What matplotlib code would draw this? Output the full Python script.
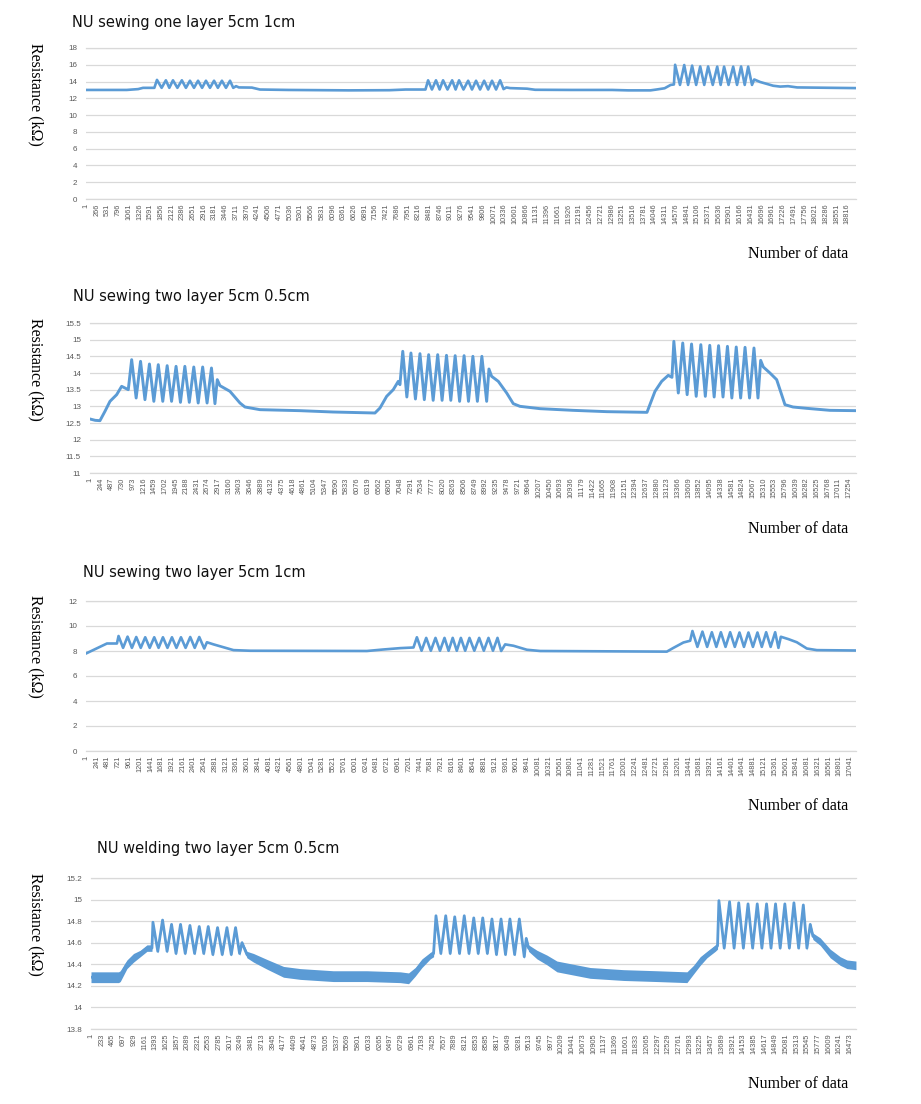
import matplotlib
matplotlib.use('Agg')
import matplotlib.pyplot as plt
import numpy as np
from matplotlib.ticker import FormatStrFormatter

# ---------------- data ----------------
titles = ["NU sewing one layer 5cm 1cm",
          "NU sewing two layer 5cm 0.5cm",
          "NU sewing two layer 5cm 1cm",
          "NU welding two layer 5cm 0.5cm"]

n_points = [19030, 17412, 17175, 16602]
tick_step = [265, 243, 240, 232]
tick_last = [18816, 17254, 17041, 16473]

# chart 1 : sewing one layer 5cm 1cm
x1 = [1, 1010, 1290, 1410, 1690,
      1755, 1870, 1975, 2060, 2150, 2260, 2370, 2470, 2570, 2670, 2770, 2870, 2965, 3065, 3165, 3260, 3360, 3460, 3560,
      3640, 3710, 3780, 4100, 4300, 5000, 6500, 7500, 7900, 8390,
      8455, 8550, 8650, 8740, 8825, 8935, 9050, 9135, 9220, 9330, 9445, 9540, 9640, 9740, 9840, 9940, 10035, 10135, 10235,
      10320, 10390, 10480, 10900, 11100, 12000, 13000, 13400, 13950, 14100, 14300, 14450, 14530,
      14560, 14680, 14785, 14880, 14980, 15080, 15180, 15280, 15375, 15490, 15600, 15685, 15770, 15880, 15995, 16090, 16190, 16280, 16365,
      16460, 16515, 16660, 16985, 17155, 17350, 17575, 19030]
y1 = [13.0, 13.0, 13.1, 13.25, 13.25,
      14.2, 13.25, 14.15, 13.25, 14.15, 13.25, 14.15, 13.25, 14.1, 13.25, 14.1, 13.25, 14.1, 13.25, 14.1, 13.25, 14.1, 13.25, 14.1,
      13.25, 13.45, 13.3, 13.28, 13.05, 13.0, 12.95, 12.97, 13.05, 13.05,
      14.15, 13.05, 14.15, 13.05, 14.15, 13.05, 14.15, 13.05, 14.15, 13.05, 14.1, 13.05, 14.1, 13.05, 14.1, 13.05, 14.1, 13.05, 14.15,
      13.1, 13.3, 13.22, 13.15, 13.02, 13.0, 13.0, 12.95, 12.95, 13.05, 13.2, 13.6, 13.65,
      16.0, 13.6, 15.97, 13.6, 15.9, 13.6, 15.8, 13.6, 15.8, 13.6, 15.78, 13.6, 15.78, 13.6, 15.78, 13.6, 15.8, 13.6, 15.78,
      13.6, 14.25, 13.95, 13.5, 13.4, 13.45, 13.3, 13.22]

# chart 2 : sewing two layer 5cm 0.5cm
x2 = [1, 120, 227, 341, 455, 607, 720, 796, 871,
      948, 1050, 1150, 1250, 1352, 1452, 1553, 1655, 1755, 1855, 1957, 2057, 2157, 2258, 2360, 2460, 2562, 2662, 2762,
      2841, 2894, 2955, 3182, 3410, 3523, 3864, 4773, 5523, 6478, 6592, 6744, 6894, 7008, 7046,
      7110, 7203, 7296, 7398, 7501, 7600, 7699, 7801, 7904, 8004, 8104, 8202, 8301, 8402, 8504, 8604, 8704, 8806, 8908,
      9017, 9069, 9130, 9281, 9472, 9622, 9774, 10229, 10979, 11751, 12661, 12843, 12995, 13145, 13229,
      13272, 13373, 13474, 13574, 13674, 13780, 13885, 13987, 14088, 14188, 14288, 14389, 14490, 14590, 14690, 14790, 14890, 14992, 15093,
      15184, 15245, 15305, 15456, 15609, 15797, 15979, 16291, 16820, 17411]
y2 = [12.62, 12.58, 12.57, 12.85, 13.15, 13.35, 13.6, 13.55, 13.5,
      14.4, 13.25, 14.35, 13.2, 14.27, 13.15, 14.25, 13.15, 14.22, 13.15, 14.2, 13.12, 14.2, 13.12, 14.18, 13.1, 14.18, 13.1, 14.15,
      13.08, 13.8, 13.62, 13.45, 13.1, 12.98, 12.9, 12.87, 12.83, 12.8, 12.95, 13.3, 13.5, 13.75, 13.65,
      14.65, 13.28, 14.6, 13.22, 14.58, 13.2, 14.55, 13.18, 14.55, 13.18, 14.53, 13.18, 14.52, 13.15, 14.52, 13.15, 14.5, 13.15, 14.5,
      13.15, 14.12, 13.9, 13.75, 13.4, 13.08, 13.0, 12.93, 12.88, 12.84, 12.82, 13.45, 13.75, 13.93, 13.87,
      14.95, 13.4, 14.9, 13.35, 14.87, 13.3, 14.85, 13.3, 14.83, 13.28, 14.82, 13.28, 14.8, 13.25, 14.78, 13.25, 14.77, 13.25, 14.75,
      13.25, 14.38, 14.18, 14.0, 13.8, 13.05, 12.98, 12.94, 12.88, 12.87]

# chart 3 : sewing two layer 5cm 1cm
x3 = [1, 468, 691,
      727, 828, 928, 1025, 1122, 1222, 1322, 1422, 1523, 1620, 1717, 1818, 1918, 2018, 2119, 2222, 2326, 2426, 2527,
      2638, 2698, 2845, 3068, 3291, 3664, 6266, 6630, 7009, 7305,
      7381, 7485, 7589, 7692, 7796, 7896, 7997, 8088, 8180, 8271, 8362, 8458, 8554, 8662, 8771, 8874, 8978, 9078, 9179,
      9261, 9350, 9535, 9834, 10131, 12956, 13103, 13326, 13476,
      13527, 13638, 13750, 13855, 13960, 14060, 14161, 14265, 14368, 14472, 14576, 14676, 14776, 14876, 14977, 15074, 15171, 15271, 15372,
      15445, 15499, 15668, 15855, 16078, 16301, 17171]
y3 = [7.8, 8.6, 8.6,
      9.2, 8.25, 9.15, 8.25, 9.12, 8.25, 9.1, 8.25, 9.1, 8.25, 9.1, 8.25, 9.1, 8.25, 9.1, 8.25, 9.12, 8.25, 9.12,
      8.2, 8.7, 8.53, 8.3, 8.07, 8.02, 8.0, 8.12, 8.23, 8.28,
      9.1, 8.02, 9.05, 8.02, 9.05, 8.02, 9.05, 8.02, 9.05, 8.02, 9.05, 8.02, 9.05, 8.02, 9.05, 8.02, 9.05, 8.02, 9.05,
      8.0, 8.53, 8.42, 8.1, 8.0, 7.95, 8.25, 8.68, 8.82,
      9.6, 8.33, 9.55, 8.33, 9.5, 8.33, 9.5, 8.33, 9.5, 8.33, 9.48, 8.33, 9.48, 8.33, 9.48, 8.33, 9.5, 8.33, 9.5,
      8.25, 9.14, 8.95, 8.7, 8.2, 8.07, 8.04]

# chart 4 : welding two layer 5cm 0.5cm  (y4 = centre of the noisy trace, hw4 = half width of its noise band)
x4 = [1, 599, 636, 781, 924, 1070, 1215, 1324,
      1345, 1450, 1554, 1652, 1749, 1846, 1944, 2046, 2148, 2249, 2350, 2448, 2545, 2646, 2747, 2849, 2951, 3045, 3138,
      3225, 3277, 3385, 3528, 3819, 4179, 4542, 5258, 5989, 6712, 6892, 7037, 7183, 7363, 7435,
      7487, 7593, 7699, 7796, 7894, 7998, 8101, 8204, 8307, 8404, 8502, 8602, 8702, 8800, 8899, 8996, 9092, 9194, 9296,
      9403, 9446, 9496, 9678, 9895, 10112, 10472, 10834, 11557, 12282, 12933, 13076, 13221, 13367, 13547, 13597,
      13627, 13742, 13858, 13957, 14057, 14158, 14259, 14359, 14459, 14560, 14661, 14758, 14856, 14957, 15058, 15156, 15255, 15357, 15459,
      15537, 15609, 15667, 15826, 16043, 16260, 16405, 16601]
y4 = [14.28, 14.28, 14.29, 14.4, 14.46, 14.5, 14.55, 14.55,
      14.79, 14.52, 14.81, 14.52, 14.77, 14.5, 14.77, 14.5, 14.76, 14.5, 14.75, 14.5, 14.75, 14.49, 14.74, 14.49, 14.74, 14.49, 14.74,
      14.5, 14.6, 14.49, 14.46, 14.4, 14.33, 14.31, 14.29, 14.29, 14.28, 14.27, 14.33, 14.41, 14.48, 14.5,
      14.85, 14.5, 14.85, 14.5, 14.84, 14.5, 14.85, 14.5, 14.83, 14.5, 14.83, 14.5, 14.82, 14.49, 14.82, 14.49, 14.82, 14.49, 14.82,
      14.47, 14.64, 14.55, 14.49, 14.44, 14.38, 14.35, 14.32, 14.3, 14.29, 14.28, 14.35, 14.43, 14.49, 14.55, 14.57,
      14.99, 14.55, 14.98, 14.55, 14.97, 14.55, 14.96, 14.55, 14.96, 14.55, 14.96, 14.55, 14.96, 14.55, 14.96, 14.55, 14.97, 14.55, 14.95,
      14.55, 14.77, 14.66, 14.61, 14.5, 14.43, 14.4, 14.39]
hw4 = [0.05, 0.05, 0.05, 0.04, 0.04, 0.03, 0.03, 0.03] + \
      [0.015] * 19 + \
      [0.02, 0.02, 0.03, 0.04, 0.045, 0.05, 0.05, 0.05, 0.05, 0.05, 0.05, 0.04, 0.04, 0.03, 0.03] + \
      [0.015] * 19 + \
      [0.02, 0.02, 0.03, 0.04, 0.045, 0.05, 0.05, 0.05, 0.05, 0.05, 0.05, 0.04, 0.04, 0.03, 0.03, 0.03] + \
      [0.015] * 19 + \
      [0.02, 0.02, 0.03, 0.035, 0.04, 0.04, 0.04, 0.04]

series = [(x1, y1), (x2, y2), (x3, y3), (x4, y4)]
ylims = [(0, 18), (11, 15.5), (0, 12), (13.8, 15.2)]
ysteps = [2, 0.5, 2, 0.2]

# ---------------- layout (pixels) ----------------
W, H = 921, 1104
fig = plt.figure(figsize=(W / 100, H / 100), dpi=100)

BLUE = '#5B9BD5'
GRID = '#D9D9D9'
TICKC = '#595959'

axes_px = [(86, 856, 48, 199), (90, 856, 323, 473), (86, 856, 601, 751), (91, 856, 878, 1029)]
title_px = [(72, 22), (73, 297), (83, 572), (97, 849)]
ylabel_y = [94, 369, 646, 924]
xlabel_y = [254, 529, 806, 1084]

for i in range(4):
    l, r, t, b = axes_px[i]
    ax = fig.add_axes([l / W, 1 - b / H, (r - l) / W, (b - t) / H])
    xs, ys = series[i]
    if i == 3:
        xa = np.array(xs, dtype=float)
        ya = np.array(ys, dtype=float)
        ha = np.array(hw4, dtype=float)
        ax.fill_between(xa, ya - ha, ya + ha, color=BLUE, lw=0, zorder=2)
        ax.plot(xa, ya, color=BLUE, lw=2.0, zorder=3, solid_joinstyle='round')
    else:
        ax.plot(xs, ys, color=BLUE, lw=1.9 if i != 1 else 2.1, zorder=3, solid_joinstyle='round')

    ax.set_xlim(1, n_points[i])
    y0, y1_ = ylims[i]
    ax.set_ylim(y0, y1_)
    ax.set_yticks(np.arange(y0, y1_ + ysteps[i] / 2, ysteps[i]))
    ax.yaxis.set_major_formatter(FormatStrFormatter('%g'))
    ticks = list(range(1, tick_last[i] + 1, tick_step[i]))
    ax.set_xticks(ticks)
    ax.set_xticklabels([str(v) for v in ticks], rotation=90)
    for lab in ax.get_xticklabels():
        lab.set_fontsize(5.3)
        lab.set_color(TICKC)
        lab.set_family('Liberation Sans')
    for lab in ax.get_yticklabels():
        lab.set_fontsize(5.8)
        lab.set_color(TICKC)
        lab.set_family('Liberation Sans')
    ax.grid(axis='y', color=GRID, lw=0.9)
    ax.set_axisbelow(True)
    for s in ['left', 'right']:
        ax.spines[s].set_visible(False)
    for s in ['top', 'bottom']:
        ax.spines[s].set_color(GRID)
        ax.spines[s].set_linewidth(0.9)
    ax.tick_params(axis='both', length=0)
    ax.tick_params(axis='y', pad=6.5)
    ax.tick_params(axis='x', pad=3.5)

    tx, ty = title_px[i]
    fig.text(tx / W, 1 - ty / H, titles[i], ha='left', va='center', fontsize=10.5, family='DejaVu Sans', color='#111111')
    fig.text(36 / W, 1 - ylabel_y[i] / H, 'Resistance (kΩ)', rotation=270, ha='center', va='center',
             fontsize=11.5, family='Liberation Serif', color='black')
    fig.text(848 / W, 1 - xlabel_y[i] / H, 'Number of data', ha='right', va='center',
             fontsize=11.5, family='Liberation Serif', color='black')

fig.savefig('out.png', dpi=100, facecolor='white')
